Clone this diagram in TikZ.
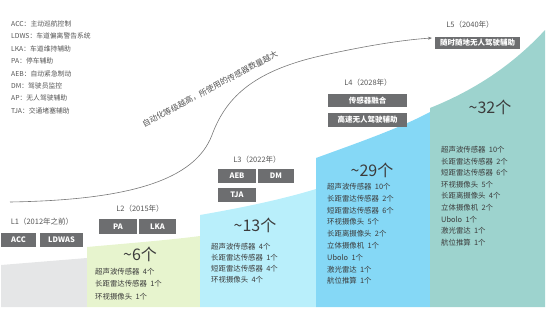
\documentclass[tikz,border=0pt]{standalone}
\usepackage{fontspec}
\setmainfont{Noto Sans CJK SC}
\usetikzlibrary{arrows.meta}
\definecolor{boxgray}{RGB}{109,110,112}
\definecolor{txtgray}{RGB}{85,85,85}
\definecolor{txtdark}{RGB}{60,60,60}
\definecolor{bandA}{RGB}{229,230,231}
\definecolor{bandB}{RGB}{231,244,206}
\definecolor{bandC}{RGB}{185,239,251}
\definecolor{bandD}{RGB}{133,216,246}
\definecolor{bandE}{RGB}{157,211,206}
\definecolor{curvegray}{RGB}{120,120,120}
\newcommand{\gapsp}{\hspace{0.45em}}
\tikzset{
  tagbox/.style={fill=boxgray, text=white, font=\bfseries\fontsize{7.5}{9}\selectfont, inner sep=0pt, minimum height=14pt},
  lvl/.style={text=txtgray, font=\fontsize{7.5}{9}\selectfont, inner sep=0pt},
  count/.style={text=txtdark, font=\fontsize{16}{18}\selectfont, inner sep=0pt},
  item/.style={text=txtdark, font=\fontsize{7.4}{8}\selectfont, inner sep=0pt, anchor=base west},
  legend/.style={text=txtgray, font=\fontsize{6.8}{8}\selectfont, inner sep=0pt, anchor=base west},
  trend/.style={draw=curvegray, line width=0.6pt, -{Stealth[length=4pt,width=3pt]}}
}
\begin{document}
\begin{tikzpicture}[x=1pt,y=-1pt]
\useasboundingbox (0,0) rectangle (546,311);
% bands
\fill[bandA] (1,265) -- (87,258) -- (87,307) -- (1,307) -- cycle;
\fill[bandB] (87,247) .. controls (120,244) and (170,240) .. (200,236) -- (200,307) -- (87,307) -- cycle;
\fill[bandC] (200,215) .. controls (240,208) and (280,200) .. (316,189) -- (316,307) -- (200,307) -- cycle;
\fill[bandD] (316,158) .. controls (360,142) and (400,128) .. (430,112) -- (430,307) -- (316,307) -- cycle;
\fill[bandE] (430,108) .. controls (470,92) and (510,68) .. (545,30) -- (545,307) -- (430,307) -- cycle;
% legend
\foreach \t [count=\i from 0] in {ACC：主动巡航控制, LDWS：车道偏离警告系统, LKA：车道维持辅助, PA：停车辅助, AEB：自动紧急制动, DM：驾驶员监控, AP：无人驾驶辅助, TJA：交通堵塞辅助}
  \node[legend] (leg\i) at (11, {26.5+12.4*\i}) {\t};
% trend curve
\coordinate (cstart) at (10,202);
\coordinate (cend) at (432,38);
\draw[trend] (cstart) .. controls (130,200) and (195,180) .. (212,135)
  .. controls (225,100) and (250,72) .. (320,56)
  .. controls (360,47) and (400,40) .. (cend);
\node[text=txtgray, font=\fontsize{8}{9}\selectfont, rotate=28, inner sep=0pt] (trendtxt) at (210,89) {自动化等级越高，所使用的传感器数量越大};
% L1
\node[lvl] (l1) at (42,222) {L1（2012年之前）};
\node[tagbox, minimum width=35pt] (acc) at (18.5,240) {ACC};
\node[tagbox, minimum width=43pt] (ldwas) at (61.5,240) {LDWAS};
% L2
\node[lvl] (l2) at (140,209) {L2（2015年）};
\node[tagbox, minimum width=38pt, minimum height=15pt] (pa) at (118,226.5) {PA};
\node[tagbox, minimum width=37pt, minimum height=15pt] (lka) at (157.5,226.5) {LKA};
\node[count] (c2) at (140,254) {\textasciitilde 6个};
\foreach \t/\n [count=\i from 0] in {超声波传感器/4, 长距雷达传感器/1, 环视摄像头/1}
  \node[item] (l2s\i) at (95, {274.5+12.4*\i}) {\t\gapsp{\n}个};
% L3
\node[lvl] (l3) at (257,160) {L3（2022年）};
\node[tagbox, minimum width=38pt] (aeb) at (237,176) {AEB};
\node[tagbox, minimum width=36pt] (dm) at (276,176) {DM};
\node[tagbox, minimum width=38pt] (tja) at (237,195) {TJA};
\node[count] (c3) at (255,225) {\textasciitilde 13个};
\foreach \t/\n [count=\i from 0] in {超声波传感器/4, 长距雷达传感器/1, 短距雷达传感器/4, 环视摄像头/4}
  \node[item] (l3s\i) at (211, {249.5+11*\i}) {\t\gapsp{\n}个};
% L4
\node[lvl] (l4) at (368,83) {L4（2028年）};
\node[tagbox, minimum width=79pt, minimum height=13pt] (fus) at (367.5,100.5) {传感器融合};
\node[tagbox, minimum width=79pt] (hwy) at (367.5,120) {高速无人驾驶辅助};
\node[count] (c4) at (372,170) {\textasciitilde 29个};
\foreach \t/\n [count=\i from 0] in {超声波传感器/10, 长距雷达传感器/2, 短距雷达传感器/6, 环视摄像头/5, 长距离摄像头/2, 立体摄像机/1, Ubolo/1, 激光雷达/1, 航位推算/1}
  \node[item] (l4s\i) at (327, {189.5+11.8*\i}) {\t\gapsp{\n}个};
% L5
\node[lvl] (l5) at (470,25) {L5（2040年）};
\node[tagbox, minimum width=85pt, minimum height=12pt] (any) at (477.5,43) {随时随地无人驾驶辅助};
\node[count] (c5) at (490,107) {\textasciitilde 32个};
\foreach \t/\n [count=\i from 0] in {超声波传感器/10, 长距雷达传感器/2, 短距雷达传感器/6, 环视摄像头/5, 长距离摄像头/4, 立体摄像机/2, Ubolo/1, 激光雷达/1, 航位推算/1}
  \node[item] (l5s\i) at (441, {152.5+11.6*\i}) {\t\gapsp{\n}个};
\end{tikzpicture}
\end{document}
